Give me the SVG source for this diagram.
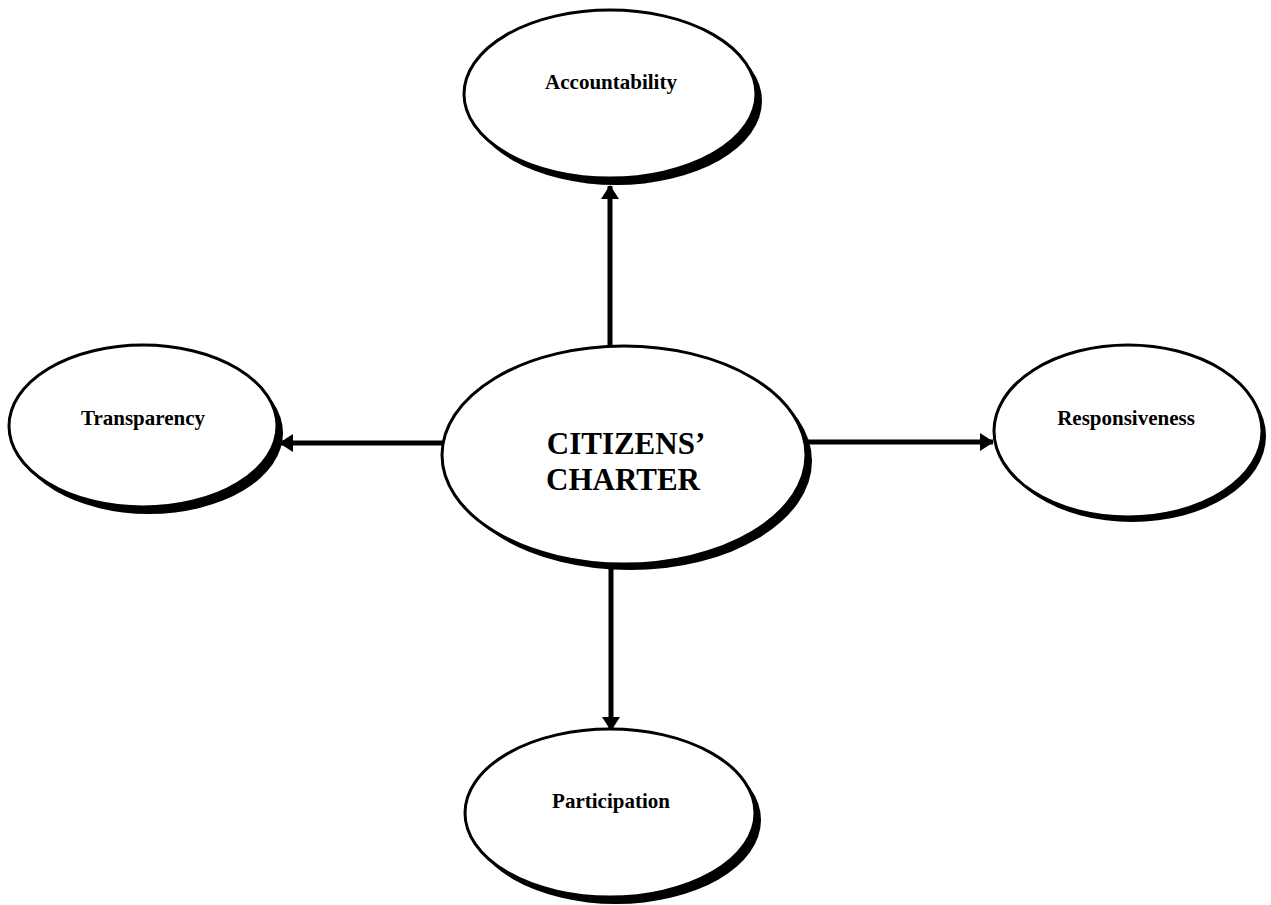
<svg xmlns="http://www.w3.org/2000/svg" width="1271" height="905" viewBox="0 0 1271 905">
<defs>
<style>
.shadow{fill:#000;stroke:none}
.node{fill:#fff;stroke:#000;stroke-width:3}
.lbl{font-family:"Liberation Serif","Times New Roman",serif;font-weight:bold;font-size:21px;text-anchor:middle;fill:#000}
.big{font-family:"Liberation Serif","Times New Roman",serif;font-weight:bold;font-size:31px;text-anchor:middle;fill:#000}
.conn{stroke:#000;stroke-width:5;fill:none;marker-end:url(#ah)}
</style>
<marker id="ah" viewBox="0 0 14 18" refX="13" refY="9" markerWidth="14" markerHeight="18" markerUnits="userSpaceOnUse" orient="auto">
<path d="M0,0 L14,9 L0,18 Z" fill="#000"/>
</marker>
</defs>
<rect width="1271" height="905" fill="#fff"/>
<g id="connectors">
<line class="conn" x1="610" y1="347" x2="610" y2="186"/>
<line class="conn" x1="443" y1="443" x2="280" y2="443"/>
<line class="conn" x1="806" y1="442" x2="993" y2="442"/>
<line class="conn" x1="611" y1="568" x2="611" y2="730"/>
</g>
<g id="center">
<ellipse class="shadow" cx="630" cy="461" rx="182" ry="109"/>
<ellipse class="node" cx="624" cy="455" rx="182" ry="109"/>
<text class="big" x="626" y="454">CITIZENS’</text>
<text class="big" x="623" y="490">CHARTER</text>
</g>
<g id="accountability">
<ellipse class="shadow" cx="616" cy="101" rx="146" ry="84"/>
<ellipse class="node" cx="610" cy="94" rx="146" ry="84"/>
<text class="lbl" x="611" y="89">Accountability</text>
</g>
<g id="transparency">
<ellipse class="shadow" cx="149" cy="433" rx="134" ry="81"/>
<ellipse class="node" cx="143" cy="426" rx="134" ry="81"/>
<text class="lbl" x="143" y="425">Transparency</text>
</g>
<g id="responsiveness">
<ellipse class="shadow" cx="1132" cy="436" rx="134" ry="86"/>
<ellipse class="node" cx="1128" cy="431" rx="134" ry="86"/>
<text class="lbl" x="1126" y="425">Responsiveness</text>
</g>
<g id="participation">
<ellipse class="shadow" cx="616" cy="820" rx="145" ry="84"/>
<ellipse class="node" cx="610" cy="813" rx="145" ry="84"/>
<text class="lbl" x="611" y="808">Participation</text>
</g>
</svg>
